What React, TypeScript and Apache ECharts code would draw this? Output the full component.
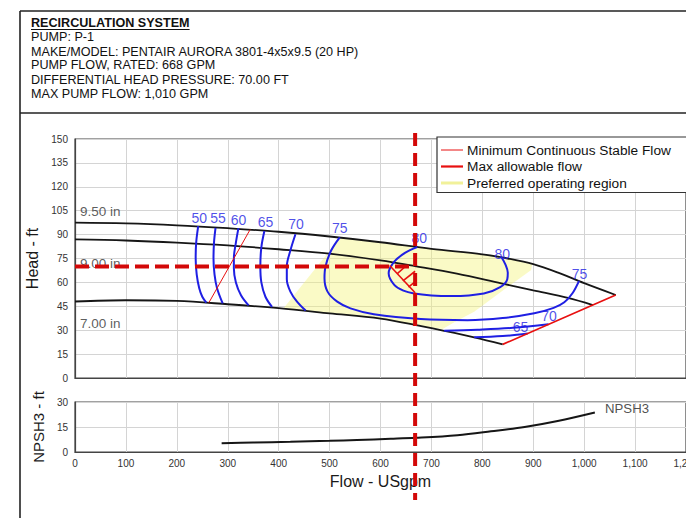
import React, { useEffect, useRef } from "react";
import * as echarts from "echarts";

const FONT = '"Liberation Sans", Arial, Helvetica, sans-serif';

// ---------- header texts ----------
const HEADER_TITLE = "RECIRCULATION SYSTEM";
const HEADER_LINES = [
  "PUMP: P-1",
  "MAKE/MODEL: PENTAIR AURORA 3801-4x5x9.5 (20 HP)",
  "PUMP FLOW, RATED: 668 GPM",
  "DIFFERENTIAL HEAD PRESSURE: 70.00 FT",
  "MAX PUMP FLOW: 1,010 GPM",
];

// ---------- legend ----------
const LEGEND_ITEMS = [
  "Minimum Continuous Stable Flow",
  "Max allowable flow",
  "Preferred operating region",
];

// ---------- axis titles ----------
const HEAD_AXIS_NAME = "Head - ft";
const NPSH_AXIS_NAME = "NPSH3 - ft";
const FLOW_AXIS_NAME = "Flow - USgpm";

// ---------- rated point ----------
const RATED_FLOW = 668;
const RATED_HEAD = 70;

// ---------- impeller curves [flow gpm, head ft] ----------
const IMPELLER_950 = [
  [0, 97.5], [100, 97], [200, 95.8], [300, 94], [400, 91.8], [500, 88.8],
  [600, 85.2], [700, 81], [800, 77.6], [850, 75], [900, 71.5], [950, 66],
  [1000, 59.5], [1062, 52.1],
];
const IMPELLER_900 = [
  [0, 87], [100, 86.3], [200, 85], [300, 83.2], [400, 80.8], [500, 78],
  [600, 73.8], [668, 70.2], [750, 65.5], [837, 59.4], [900, 55], [968, 50.3],
  [1017, 45.8],
];
const IMPELLER_700 = [
  [0, 48], [100, 48.8], [200, 48.4], [300, 46.3], [400, 43.8], [500, 40.6],
  [600, 37.3], [680, 32.5], [725, 29.6], [784, 25.5], [840, 21.1],
];
const IMPELLER_LABELS = [
  { name: "9.50 in", value: [9, 104.8] },
  { name: "9.00 in", value: [9, 72] },
  { name: "7.00 in", value: [9, 34.3] },
];

// ---------- efficiency contours ----------
const EFF_50 = [[242, 95.3], [238, 85], [237, 75], [239, 65], [244, 56.3], [250, 51], [258, 47.3]];
const EFF_55 = [[276, 94.2], [273, 85], [272, 75], [274, 65], [279, 56.3], [290, 46.8]];
const EFF_60 = [[321, 94.1], [316, 85], [312, 75], [312, 68.9], [316, 60], [326, 52], [341, 45.6]];
const EFF_65 = [[372, 92.2], [366, 82], [364, 70], [366, 60], [374, 51], [387, 44.6]];
const EFF_70 = [[433, 90.2], [423, 80], [416, 70], [416, 62], [423, 54.2], [436, 47.9], [453, 42.3]];
const EFF_75 = [
  [520, 88.3], [503, 80], [492, 70], [490, 62.6], [496, 54.2], [515, 47.9], [541, 43.7],
  [587, 40], [679, 37], [771, 36.3], [840, 37.6], [902, 40.6], [940, 44], [961, 47.5],
  [977, 53.2], [990, 61],
];
const EFF_80 = [
  [672, 82.2], [648, 78.5], [627, 73], [616, 65.7], [627, 58.4], [645, 54.8], [666, 53],
  [700, 51.8], [740, 51.4], [803, 53], [835, 57], [849, 62], [850, 66], [845, 71.5], [837, 76.1],
];
const EFF_70_HIGH = [[725, 29.6], [790, 30.3], [860, 31.5], [930, 33.8]];
const EFF_65_HIGH = [[784, 25.5], [840, 26.3], [889, 27.9]];
const EFF_LABELS = [
  { name: "50", value: [244, 100.3] },
  { name: "55", value: [281, 100.3] },
  { name: "60", value: [321, 99.3] },
  { name: "65", value: [374, 97.7] },
  { name: "70", value: [434, 96.5] },
  { name: "75", value: [520, 94] },
  { name: "80", value: [676, 87.7] },
  { name: "80", value: [839, 77.8] },
  { name: "75", value: [991, 65.3] },
  { name: "70", value: [931, 38.9] },
  { name: "65", value: [875, 31.8] },
];

// ---------- limits ----------
const MIN_FLOW_LINE = [[263, 47.3], [344, 93.2]];
const MAX_FLOW_LINE = [[840, 21.1], [1017, 45.8], [1062, 52.1]];
const POR_REGION = [
  [410, 43.9], [521, 88.2], [600, 85.2], [700, 81], [800, 77.6], [850, 75], [898, 71.4],
  [896, 67.8], [837, 54.2], [784, 41.6], [745, 35], [722, 30.8], [680, 32.5], [600, 37.3],
  [500, 40.6], [410, 43.9],
];
const RATED_HATCH = [
  [618, 70.6, 668, 53.5],
  [633, 65.5, 651, 70.6],
  [644, 61, 668, 67],
  [655, 57, 668, 60.5],
];

// ---------- NPSH ----------
const NPSH_CURVE = [
  [288, 5.3], [350, 5.7], [423, 6.1], [500, 6.7], [554, 7.2], [620, 7.9], [669, 8.5],
  [751, 10.1], [817, 12.4], [883, 15], [948, 18.6], [1021, 23.7],
];
const NPSH_LABEL = [{ name: "NPSH3", value: [1040, 26.4] }];

const RED = "#d30808";
const BLUE = "#1f1fe3";
const BLACK = "#161616";

function curve(data: number[][], color: string, width: number, z = 3, smooth: number | boolean = 0.35) {
  return {
    type: "line",
    xAxisIndex: 0,
    yAxisIndex: 0,
    data,
    symbol: "none",
    smooth,
    silent: true,
    z,
    lineStyle: { color, width },
  };
}

function textMeasure(text: string, font: string) {
  const c = document.createElement("canvas").getContext("2d");
  if (!c) return text.length * 8;
  c.font = font;
  return c.measureText(text).width;
}

function buildGraphics() {
  const g: any[] = [];
  const frame = { stroke: "#222", lineWidth: 1.6 };
  g.push({ type: "line", shape: { x1: 20, y1: 11, x2: 686, y2: 11 }, style: frame, z: 50 });
  g.push({ type: "line", shape: { x1: 20, y1: 11, x2: 20, y2: 518 }, style: frame, z: 50 });
  g.push({ type: "line", shape: { x1: 20, y1: 113, x2: 686, y2: 113 }, style: frame, z: 50 });

  const titleFont = `bold 12.6px ${FONT}`;
  const tw = textMeasure(HEADER_TITLE, titleFont);
  g.push({
    type: "text", x: 31, y: 22.5, z: 50,
    style: { text: HEADER_TITLE, fontSize: 12.6, fontWeight: "bold", fontFamily: FONT, fill: "#111", verticalAlign: "middle" },
  });
  g.push({ type: "line", shape: { x1: 31, y1: 29.5, x2: 31 + tw, y2: 29.5 }, style: { stroke: "#111", lineWidth: 1 }, z: 50 });
  const ys = [36.8, 51.5, 65.2, 79.8, 94.2];
  HEADER_LINES.forEach((t, i) => {
    g.push({
      type: "text", x: 31, y: ys[i], z: 50,
      style: { text: t, fontSize: 12.6, fontFamily: FONT, fill: "#111", verticalAlign: "middle" },
    });
  });

  // legend box
  g.push({ type: "rect", shape: { x: 437, y: 137, width: 262, height: 55.5 }, style: { fill: "#fff", stroke: "#333", lineWidth: 1.2 }, z: 60 });
  const ly = [150, 166.5, 183];
  const lstyles = [
    { stroke: "#e81010", lineWidth: 1 },
    { stroke: "#e81010", lineWidth: 2.2 },
    { stroke: "#f1f19a", lineWidth: 3 },
  ];
  LEGEND_ITEMS.forEach((t, i) => {
    g.push({ type: "line", shape: { x1: 441, y1: ly[i], x2: 463, y2: ly[i] }, style: lstyles[i], z: 61 });
    g.push({
      type: "text", x: 467, y: ly[i], z: 61,
      style: { text: t, fontSize: 13.7, fontFamily: FONT, fill: "#111", verticalAlign: "middle" },
    });
  });
  return g;
}

function buildOption() {
  const axisLabel = { fontSize: 10, color: "#333", fontFamily: FONT };
  const split = { show: true, lineStyle: { color: "#d4d4d4", width: 1 } };
  const axisLine = { show: true, lineStyle: { color: "#444", width: 1.2 } };
  return {
    animation: false,
    backgroundColor: "#fff",
    textStyle: { fontFamily: FONT },
    grid: [
      { left: 75, top: 139, width: 611, height: 239, show: true, borderColor: "#444", borderWidth: 1.2, backgroundColor: "#fff", containLabel: false, outerBoundsMode: "none" },
      { left: 75, top: 402, width: 611, height: 50, show: true, borderColor: "#444", borderWidth: 1.2, backgroundColor: "#fff", containLabel: false, outerBoundsMode: "none" },
    ],
    xAxis: [
      {
        type: "value", gridIndex: 0, min: 0, max: 1200, interval: 100,
        axisLabel: { show: false }, axisTick: { show: false }, splitLine: split, axisLine,
      },
      {
        type: "value", gridIndex: 1, min: 0, max: 1200, interval: 100,
        axisLabel: { ...axisLabel, margin: 6, formatter: (v: number) => v.toLocaleString("en-US") },
        axisTick: { show: false }, splitLine: split, axisLine,
        name: FLOW_AXIS_NAME, nameLocation: "middle", nameGap: 21,
        nameTextStyle: { fontSize: 16, color: "#1a1a1a", fontFamily: FONT },
      },
    ],
    yAxis: [
      {
        type: "value", gridIndex: 0, min: 0, max: 150, interval: 15,
        axisLabel: { ...axisLabel, margin: 7 }, axisTick: { show: false }, splitLine: split, axisLine,
        name: HEAD_AXIS_NAME, nameLocation: "middle", nameRotate: 90, nameGap: 31,
        nameTextStyle: { fontSize: 16, color: "#1a1a1a", fontFamily: FONT },
      },
      {
        type: "value", gridIndex: 1, min: 0, max: 30, interval: 15,
        axisLabel: { ...axisLabel, margin: 7 }, axisTick: { show: false }, splitLine: split, axisLine,
        name: NPSH_AXIS_NAME, nameLocation: "middle", nameRotate: 90, nameGap: 27,
        nameTextStyle: { fontSize: 15, color: "#1a1a1a", fontFamily: FONT },
      },
    ],
    series: [
      {
        type: "custom", xAxisIndex: 0, yAxisIndex: 0, z: 1, silent: true,
        data: [POR_REGION[0]],
        renderItem: (_p: any, api: any) => ({
          type: "polygon",
          shape: { points: POR_REGION.map((pt) => api.coord(pt)) },
          style: { fill: "rgba(242,242,120,0.42)" },
        }),
      },
      curve(IMPELLER_950, BLACK, 1.8),
      curve(IMPELLER_900, BLACK, 1.8),
      curve(IMPELLER_700, BLACK, 1.8),
      curve(EFF_50, BLUE, 2, 4),
      curve(EFF_55, BLUE, 2, 4),
      curve(EFF_60, BLUE, 2, 4),
      curve(EFF_65, BLUE, 2, 4),
      curve(EFF_70, BLUE, 2, 4),
      curve(EFF_75, BLUE, 2, 4),
      curve(EFF_80, BLUE, 2, 4),
      curve(EFF_70_HIGH, BLUE, 2, 4),
      curve(EFF_65_HIGH, BLUE, 2, 4),
      curve(MIN_FLOW_LINE, "#e81010", 1, 5, false),
      curve(MAX_FLOW_LINE, "#e81010", 1.7, 5, false),
      {
        type: "custom", xAxisIndex: 0, yAxisIndex: 0, z: 6, silent: true,
        data: RATED_HATCH,
        encode: { x: [0, 2], y: [1, 3] },
        renderItem: (_p: any, api: any) => {
          const a = api.coord([api.value(0), api.value(1)]);
          const b = api.coord([api.value(2), api.value(3)]);
          return {
            type: "line",
            shape: { x1: a[0], y1: a[1], x2: b[0], y2: b[1] },
            style: { stroke: "#e81010", lineWidth: 1.6 },
          };
        },
      },
      {
        type: "line", xAxisIndex: 0, yAxisIndex: 0, z: 8, silent: true, symbol: "none",
        data: [[0, RATED_HEAD], [RATED_FLOW, RATED_HEAD]],
        lineStyle: { color: RED, width: 4, type: [14, 6] },
      },
      {
        type: "scatter", xAxisIndex: 0, yAxisIndex: 0, z: 3, silent: true,
        symbolSize: 1, itemStyle: { color: "rgba(0,0,0,0)" },
        data: IMPELLER_LABELS,
        label: { show: true, formatter: "{b}", position: "right", distance: 0, fontSize: 13.5, color: "#333", fontFamily: FONT },
      },
      {
        type: "scatter", xAxisIndex: 0, yAxisIndex: 0, z: 4, silent: true,
        symbolSize: 1, itemStyle: { color: "rgba(0,0,0,0)" },
        data: EFF_LABELS,
        label: { show: true, formatter: "{b}", position: "inside", fontSize: 14, color: BLUE, fontFamily: FONT },
      },
      {
        type: "line", xAxisIndex: 1, yAxisIndex: 1, z: 3, silent: true, symbol: "none", smooth: 0.35,
        data: NPSH_CURVE, lineStyle: { color: BLACK, width: 2 },
      },
      {
        type: "scatter", xAxisIndex: 1, yAxisIndex: 1, z: 3, silent: true,
        symbolSize: 1, itemStyle: { color: "rgba(0,0,0,0)" },
        data: NPSH_LABEL,
        label: { show: true, formatter: "{b}", position: "right", distance: 0, fontSize: 13.2, color: "#222", fontFamily: FONT },
      },
    ],
    graphic: { elements: buildGraphics() },
  };
}

export default function App() {
  const ref = useRef<HTMLDivElement>(null);
  useEffect(() => {
    document.body.style.margin = "0";
    if (!ref.current) return;
    const chart = echarts.init(ref.current, null, { renderer: "svg" });
    chart.setOption(buildOption() as any);
    const x = chart.convertToPixel({ xAxisIndex: 0 }, RATED_FLOW) as number;
    const elements = buildGraphics();
    elements.push({
      type: "line", z: 100,
      shape: { x1: x, y1: 133, x2: x, y2: 500 },
      style: { stroke: RED, lineWidth: 4, lineDash: [13, 7] },
    });
    chart.setOption({ graphic: { elements } } as any);
    return () => chart.dispose();
  }, []);
  return (
    <div
      ref={ref}
      style={{ position: "fixed", left: 0, top: 0, width: 686, height: 518, background: "#fff" }}
    />
  );
}
